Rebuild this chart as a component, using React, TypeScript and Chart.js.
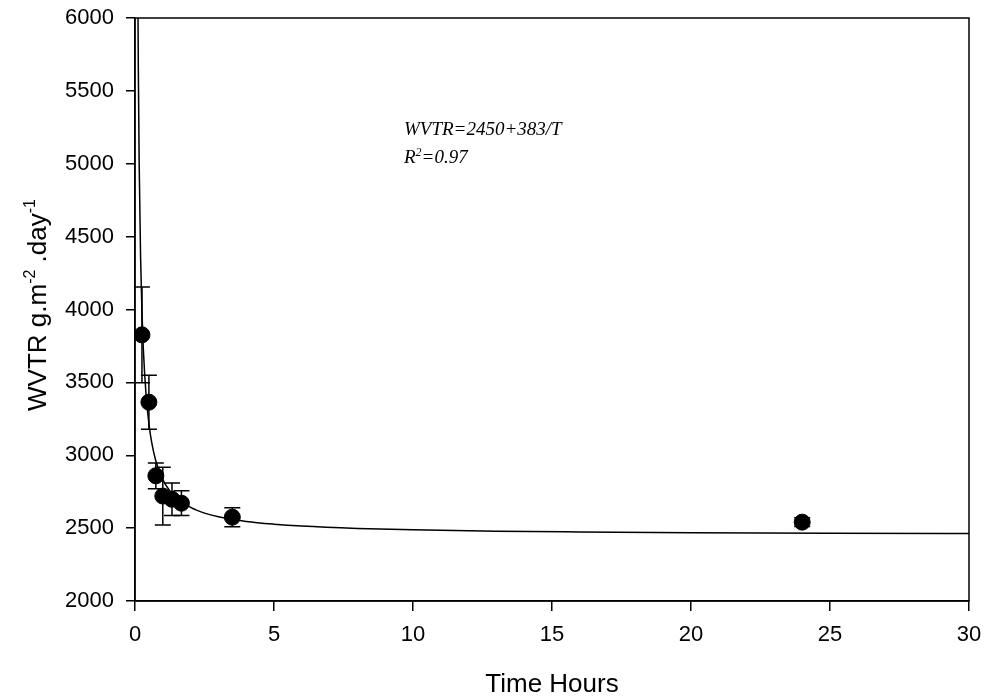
import { useEffect, useRef } from 'react';
import { Chart, registerables } from 'chart.js';

Chart.register(...registerables);

// Measured data (time in hours, WVTR mean and error)
const timeHours = [0.25, 0.5, 0.75, 1.0, 1.33, 1.67, 3.5, 24];
const wvtrMean = [3826, 3364, 2859, 2720, 2698, 2671, 2575, 2541];
const wvtrError = [328, 185, 88, 198, 111, 85, 65, 30];

// Fitted curve (WVTR = 2450 + 383/T)
const fitTime = [0.1, 0.12, 0.15, 0.2, 0.25, 0.3, 0.4, 0.5, 0.6, 0.75, 1.0, 1.25, 1.5, 2, 2.5, 3, 4, 5, 6, 8, 10, 13, 16, 20, 25, 30];
const fitWvtr = [6280, 5642, 5003, 4365, 3982, 3727, 3408, 3216, 3088, 2961, 2833, 2756, 2705, 2642, 2603, 2578, 2546, 2527, 2514, 2498, 2488, 2479, 2474, 2469, 2465, 2463];

const xAxisMin = 0;
const xAxisMax = 30;
const xAxisStep = 5;
const yAxisMin = 2000;
const yAxisMax = 6000;
const yAxisStep = 500;

const xTitle = 'Time Hours';
const yTitleParts: [string, boolean][] = [['WVTR g.m', false], ['-2', true], [' .day', false], ['-1', true]];
const equationText = 'WVTR=2450+383/T';
const r2Parts: [string, boolean][] = [['R', false], ['2', true], ['=0.97', false]];

const SANS = '"Liberation Sans", Arial, sans-serif';
const SERIF = '"Liberation Serif", "Times New Roman", serif';

const decorPlugin = {
  id: 'decor',
  afterDatasetsDraw(chart: any) {
    const ctx = chart.ctx;
    const xs = chart.scales.x;
    const ys = chart.scales.y;
    ctx.save();
    ctx.strokeStyle = '#000';
    ctx.lineWidth = 1.5;
    for (let i = 0; i < timeHours.length; i++) {
      const px = xs.getPixelForValue(timeHours[i]);
      const top = ys.getPixelForValue(wvtrMean[i] + wvtrError[i]);
      const bot = ys.getPixelForValue(wvtrMean[i] - wvtrError[i]);
      ctx.beginPath();
      ctx.moveTo(px, top);
      ctx.lineTo(px, bot);
      ctx.moveTo(px - 8, top);
      ctx.lineTo(px + 8, top);
      ctx.moveTo(px - 8, bot);
      ctx.lineTo(px + 8, bot);
      ctx.stroke();
    }
    ctx.restore();
  },
  afterDraw(chart: any) {
    const ctx = chart.ctx;
    const a = chart.chartArea;
    ctx.save();
    // box
    ctx.strokeStyle = '#000';
    ctx.lineWidth = 1.5;
    ctx.strokeRect(a.left, a.top, a.right - a.left, a.bottom - a.top);

    ctx.fillStyle = '#000';
    // x title
    ctx.font = `26px ${SANS}`;
    ctx.textAlign = 'center';
    ctx.textBaseline = 'alphabetic';
    ctx.fillText(xTitle, (a.left + a.right) / 2, 692);

    // y title (rotated, with superscripts)
    ctx.save();
    ctx.translate(46, 305);
    ctx.rotate(-Math.PI / 2);
    ctx.textAlign = 'left';
    const normFont = `26px ${SANS}`;
    const supFont = `16px ${SANS}`;
    let total = 0;
    for (const [t, sup] of yTitleParts) {
      ctx.font = sup ? supFont : normFont;
      total += ctx.measureText(t).width;
    }
    let cx = -total / 2;
    for (const [t, sup] of yTitleParts) {
      ctx.font = sup ? supFont : normFont;
      ctx.fillText(t, cx, sup ? -11 : 0);
      cx += ctx.measureText(t).width;
    }
    ctx.restore();

    // equation annotation
    ctx.textAlign = 'left';
    ctx.font = `italic 19px ${SERIF}`;
    ctx.fillText(equationText, 404, 135);
    let rx = 404;
    for (const [t, sup] of r2Parts) {
      ctx.font = sup ? `italic 12px ${SERIF}` : `italic 19px ${SERIF}`;
      ctx.fillText(t, rx, sup ? 156 : 163);
      rx += ctx.measureText(t).width;
    }
    ctx.restore();
  },
};

export default function App() {
  const ref = useRef<HTMLCanvasElement | null>(null);
  useEffect(() => {
    if (!ref.current) return;
    const chart = new Chart(ref.current, {
      type: 'scatter',
      data: {
        datasets: [
          {
            label: 'fit',
            data: fitTime.map((t, i) => ({ x: t, y: fitWvtr[i] })),
            showLine: true,
            borderColor: '#000',
            borderWidth: 1.5,
            pointRadius: 0,
            cubicInterpolationMode: 'monotone',
            fill: false,
          } as any,
          {
            label: 'WVTR',
            data: timeHours.map((t, i) => ({ x: t, y: wvtrMean[i] })),
            pointRadius: 8,
            pointBackgroundColor: '#000',
            pointBorderColor: '#000',
            showLine: false,
          } as any,
        ],
      },
      options: {
        animation: false,
        responsive: false,
        devicePixelRatio: 1,
        layout: { padding: { left: 0, top: 18, right: 16, bottom: 0 } },
        plugins: { legend: { display: false }, tooltip: { enabled: false } },
        scales: {
          x: {
            type: 'linear',
            min: xAxisMin,
            max: xAxisMax,
            afterFit: (s: any) => { s.height = 97; s.paddingLeft = 0; s.paddingRight = 0; },
            ticks: {
              stepSize: xAxisStep,
              color: '#000',
              font: { family: SANS, size: 22 },
              padding: 11,
              maxRotation: 0,
              callback: (v: any) => String(v),
            },
            grid: { drawOnChartArea: false, drawTicks: true, tickLength: 10, color: '#000', lineWidth: 1.5 },
            border: { display: true, color: '#000', width: 1.5 },
          },
          y: {
            type: 'linear',
            min: yAxisMin,
            max: yAxisMax,
            afterFit: (s: any) => { s.width = 135; s.paddingTop = 0; s.paddingBottom = 0; },
            ticks: {
              stepSize: yAxisStep,
              color: '#000',
              font: { family: SANS, size: 22 },
              padding: 12,
              callback: (v: any) => String(v),
            },
            grid: { drawOnChartArea: false, drawTicks: true, tickLength: 9, color: '#000', lineWidth: 1.5 },
            border: { display: true, color: '#000', width: 1.5 },
          },
        },
      },
      plugins: [decorPlugin],
    });
    return () => chart.destroy();
  }, []);
  return (
    <div style={{ position: 'absolute', left: 0, top: 0, width: 985, height: 698, background: '#fff' }}>
      <canvas ref={ref} width={985} height={698} style={{ display: 'block' }} />
    </div>
  );
}
